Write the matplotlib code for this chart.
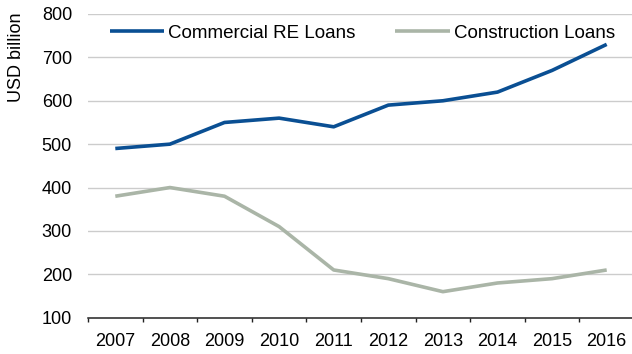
import matplotlib
matplotlib.use('Agg')
import matplotlib.pyplot as plt

years = ['2007', '2008', '2009', '2010', '2011', '2012', '2013', '2014', '2015', '2016']
commercial = [490, 500, 550, 560, 540, 590, 600, 620, 670, 730]
construction = [380, 400, 380, 310, 210, 190, 160, 180, 190, 210]

plt.rcParams['font.family'] = ['Liberation Sans', 'DejaVu Sans']
plt.rcParams['font.size'] = 13

W, H = 632, 354
fig = plt.figure(figsize=(W / 100, H / 100), dpi=100)
ax = fig.add_axes([88 / W, 1 - 317.7 / H, 546 / W, 303.7 / H])

x = range(len(years))
ax.plot(x, commercial, color='#0A4F93', lw=2.6, label='Commercial RE Loans', solid_capstyle='butt')
ax.plot(x, construction, color='#AAB5A7', lw=2.6, label='Construction Loans', solid_capstyle='butt')

ax.set_xlim(-0.5, len(years) - 0.5)
ax.set_ylim(100, 800)
ax.set_yticks(range(100, 801, 100))
ax.set_xticks(list(x))
ax.set_xticklabels(years)
ax.set_xticks([i - 0.5 for i in range(len(years) + 1)], minor=True)
ax.tick_params(axis='x', which='major', length=0, pad=11)
ax.tick_params(axis='x', which='minor', length=3, width=1, color='#222222', direction='out')
ax.tick_params(axis='y', length=0, pad=11.5)

for s in ['top', 'right', 'left']:
    ax.spines[s].set_visible(False)
ax.spines['bottom'].set_color('#222222')
ax.spines['bottom'].set_linewidth(1.1)

for v in range(200, 801, 100):
    ax.axhline(v, color='#CCCCCC', lw=1, zorder=0)

fig.text(17 / W, 1 - 57 / H, 'USD billion', rotation=90, ha='center', va='center', fontsize=13)

fig.legend(*ax.get_legend_handles_labels(), loc='center left',
           bbox_to_anchor=(110 / W, 1 - 33 / H), ncol=2, frameon=False,
           fontsize=13.5, handlelength=2.9, handletextpad=0.22, columnspacing=2.1,
           borderpad=0, borderaxespad=0)

fig.savefig('out.png', dpi=100)
